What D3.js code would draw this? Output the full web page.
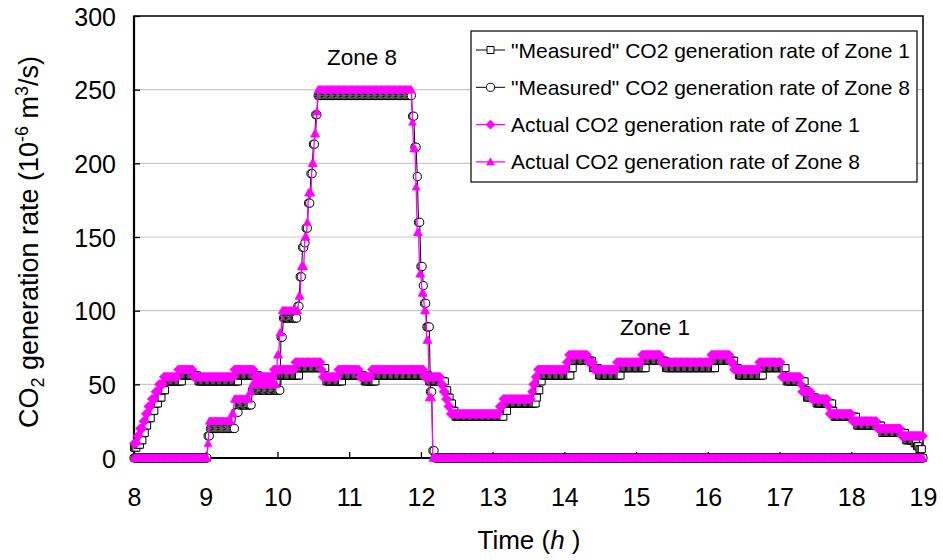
<!DOCTYPE html>
<html>
<head>
<meta charset="utf-8">
<script src="https://cdn.jsdelivr.net/npm/d3@7"></script>
<style>
  body { margin: 0; background: #fff; }
  svg { display: block; }
  text { font-family: "Liberation Sans", Arial, sans-serif; fill: #000; }
</style>
</head>
<body>
<svg id="chart" width="943" height="560"></svg>
<script>
// Axis ticks
const xTicks = [8, 9, 10, 11, 12, 13, 14, 15, 16, 17, 18, 19];
const yTicks = [0, 50, 100, 150, 200, 250, 300];

// Series names (legend order = drawing order)
const seriesNames = [
  "\"Measured\" CO2 generation rate of Zone 1",
  "\"Measured\" CO2 generation rate of Zone 8",
  "Actual CO2 generation rate of Zone 1",
  "Actual CO2 generation rate of Zone 8"
];

// One sample per minute from 8:00 to 19:00.
// Each series is stored as level changes: [minute after 8:00, value from then on].
const measuredZone1Steps = [
  [0, 7], [3, 9], [6, 12], [8, 17], [10, 22], [12, 27], [15, 32], [18, 37], [21, 41], [24, 46], [27, 52],
  [41, 56], [54, 52], [88, 56], [105, 52], [121, 56], [139, 61], [161, 52], [175, 56], [193, 52], [203, 56], [247, 52],
  [261, 46], [263, 41], [265, 37], [267, 32], [269, 28],
  [310, 32], [313, 37], [337, 41], [338, 46], [340, 52], [342, 56], [366, 61], [368, 66], [384, 61], [389, 56],
  [408, 61], [429, 66], [445, 61], [487, 66], [503, 61], [506, 56], [527, 61], [546, 52], [562, 46], [563, 41],
  [571, 37], [585, 32], [586, 28], [605, 22], [626, 17], [646, 12], [653, 10], [655, 8], [657, 6], [660, 0]
];
const measuredZone8Steps = [
  [0, 0], [62, 15], [64, 20], [85, 31], [88, 36], [99, 46], [123, 82], [125, 95],
  [137, 103], [139, 123], [141, 143], [143, 146], [144, 156], [146, 173], [148, 193], [150, 213], [152, 233], [154, 246],
  [233, 232], [235, 211], [237, 191], [238, 160], [240, 130], [242, 117], [243, 105], [245, 89], [248, 45], [250, 5], [252, 0]
];
const actualZone1Steps = [
  [0, 10], [3, 15], [5, 20], [8, 25], [10, 30], [12, 35], [15, 40], [18, 45], [21, 50], [25, 55],
  [37, 60], [50, 55], [84, 60], [101, 55], [117, 60], [135, 65], [157, 60], [158, 55], [171, 60], [189, 55], [199, 60], [243, 55],
  [257, 50], [259, 45], [261, 40], [263, 35], [265, 30],
  [306, 35], [309, 40], [333, 45], [334, 50], [336, 55], [338, 60], [362, 65], [364, 70], [380, 65], [385, 60],
  [404, 65], [425, 70], [441, 65], [483, 70], [499, 65], [502, 60], [523, 65], [542, 55], [558, 50], [559, 45],
  [567, 40], [581, 35], [582, 30], [601, 25], [622, 20], [642, 15]
];
const actualZone8Steps = [
  [0, 0], [62, 10], [63, 25], [82, 30], [84, 40], [97, 45], [99, 50], [120, 70], [122, 85], [124, 100],
  [138, 110], [140, 130], [143, 150], [145, 160], [146, 180], [149, 200], [151, 220], [153, 235], [154, 250],
  [233, 228], [234, 210], [236, 184], [237, 153], [239, 125], [241, 112], [243, 100], [245, 80], [247, 41], [250, 0]
];

const sampleMinutes = d3.range(0, 661);
function expandSteps(steps) {
  return sampleMinutes.map(m => {
    let v = steps[0][1];
    for (const s of steps) if (s[0] <= m) v = s[1];
    return { t: 8 + m / 60, v };
  });
}

const MAGENTA = "#ff00ff";
const series = [
  { name: seriesNames[0], data: expandSteps(measuredZone1Steps), color: "#000", marker: "square" },
  { name: seriesNames[1], data: expandSteps(measuredZone8Steps), color: "#000", marker: "circle" },
  { name: seriesNames[2], data: expandSteps(actualZone1Steps), color: MAGENTA, marker: "diamond" },
  { name: seriesNames[3], data: expandSteps(actualZone8Steps), color: MAGENTA, marker: "triangle" }
];

const svg = d3.select("#chart");
const plot = { left: 134, top: 16, right: 923, bottom: 458 };

const x = d3.scaleLinear().domain([d3.min(xTicks), d3.max(xTicks)]).range([plot.left, plot.right]);
const y = d3.scaleLinear().domain([d3.min(yTicks), d3.max(yTicks)]).range([plot.bottom, plot.top]);

// gridlines
svg.append("g").selectAll("line").data(yTicks.filter(d => d > 0 && d < 300)).join("line")
  .attr("x1", plot.left).attr("x2", plot.right)
  .attr("y1", d => y(d)).attr("y2", d => y(d))
  .attr("stroke", "#c8c8c8").attr("stroke-width", 1.2);

// axes with inward ticks
const xAxis = svg.append("g").attr("transform", `translate(0,${plot.bottom})`)
  .call(d3.axisBottom(x).tickValues(xTicks).tickSizeInner(-6).tickSizeOuter(0).tickPadding(48).tickFormat(d3.format("d")));
const yAxis = svg.append("g").attr("transform", `translate(${plot.left},0)`)
  .call(d3.axisLeft(y).tickValues(yTicks).tickSizeInner(-6).tickSizeOuter(0).tickPadding(18).tickFormat(d3.format("d")));
[xAxis, yAxis].forEach(g => {
  g.select(".domain").remove();
  g.selectAll(".tick line").attr("stroke", "#000").attr("stroke-width", 1.3);
  g.selectAll(".tick text").style("font-family", "'Liberation Sans', Arial, sans-serif").style("font-size", "25px").attr("fill", "#000");
});
xAxis.selectAll(".tick text").attr("dy", "0");
yAxis.selectAll(".tick text").attr("dy", "0.36em");

// plot frame
svg.append("rect")
  .attr("x", plot.left).attr("y", plot.top)
  .attr("width", plot.right - plot.left).attr("height", plot.bottom - plot.top)
  .attr("fill", "none").attr("stroke", "#000").attr("stroke-width", 1.5);
svg.append("line").attr("x1", plot.left).attr("x2", plot.left).attr("y1", plot.top).attr("y2", plot.bottom + 1)
  .attr("stroke", "#000").attr("stroke-width", 2.2);
svg.append("line").attr("x1", plot.left - 1).attr("x2", plot.right).attr("y1", plot.bottom).attr("y2", plot.bottom)
  .attr("stroke", "#000").attr("stroke-width", 2.2);

// marker shapes
function markerPath(kind) {
  switch (kind) {
    case "square": return "M-3.5,-3.5H3.5V3.5H-3.5Z";
    case "circle": return d3.symbol(d3.symbolCircle, 52)();
    case "diamond": return "M0,-4.6L4.6,0L0,4.6L-4.6,0Z";
    case "triangle": return "M0,-4.2L4,3.2L-4,3.2Z";
  }
}
function markerStyle(sel, s) {
  if (s.color === "#000") {
    sel.attr("fill", "#fff").attr("stroke", "#000").attr("stroke-width", 1);
  } else {
    sel.attr("fill", MAGENTA).attr("stroke", MAGENTA).attr("stroke-width", 0.6);
  }
}

const line = d3.line().x(d => x(d.t)).y(d => y(d.v));
series.forEach(s => {
  const g = svg.append("g");
  g.append("path").datum(s.data).attr("d", line)
    .attr("fill", "none").attr("stroke", s.color).attr("stroke-width", s.color === "#000" ? 1 : 1.3);
  g.selectAll("path.mk").data(s.data).join("path").attr("class", "mk")
    .attr("d", markerPath(s.marker))
    .attr("transform", d => `translate(${x(d.t)},${y(d.v)})`)
    .call(markerStyle, s);
});

// zone labels
svg.append("text").attr("x", 362).attr("y", 65).attr("text-anchor", "middle").style("font-size", "22.5px").text("Zone 8");
svg.append("text").attr("x", 655).attr("y", 335).attr("text-anchor", "middle").style("font-size", "22.5px").text("Zone 1");

// legend
const legend = svg.append("g");
legend.append("rect").attr("x", 471).attr("y", 31).attr("width", 446).attr("height", 151)
  .attr("fill", "#fff").attr("stroke", "#000").attr("stroke-width", 1.2);
series.forEach((s, i) => {
  const cy = 50 + i * 37.3;
  legend.append("line").attr("x1", 476).attr("x2", 505).attr("y1", cy).attr("y2", cy)
    .attr("stroke", s.color).attr("stroke-width", s.color === "#000" ? 1 : 1.3);
  legend.append("path").attr("d", markerPath(s.marker)).attr("transform", `translate(490.5,${cy})`).call(markerStyle, s);
  legend.append("text").attr("x", 511).attr("y", cy + 7.5).style("font-size", "21px").text(s.name);
});

// axis titles
const xt = svg.append("text").attr("x", 529).attr("y", 549).attr("text-anchor", "middle").style("font-size", "26px");
xt.append("tspan").text("Time (");
xt.append("tspan").style("font-style", "italic").text("h");
xt.append("tspan").text(" )");

const yt = svg.append("text").attr("transform", "translate(37.5,242) rotate(-90)").attr("text-anchor", "middle").style("font-size", "27px");
yt.append("tspan").text("CO");
yt.append("tspan").attr("dy", 6).style("font-size", "18px").text("2");
yt.append("tspan").attr("dy", -6).text(" generation rate (10");
yt.append("tspan").attr("dy", -10).style("font-size", "18px").text("-6");
yt.append("tspan").attr("dy", 10).text(" m");
yt.append("tspan").attr("dy", -10).style("font-size", "18px").text("3");
yt.append("tspan").attr("dy", 10).text("/s)");
</script>
</body>
</html>
